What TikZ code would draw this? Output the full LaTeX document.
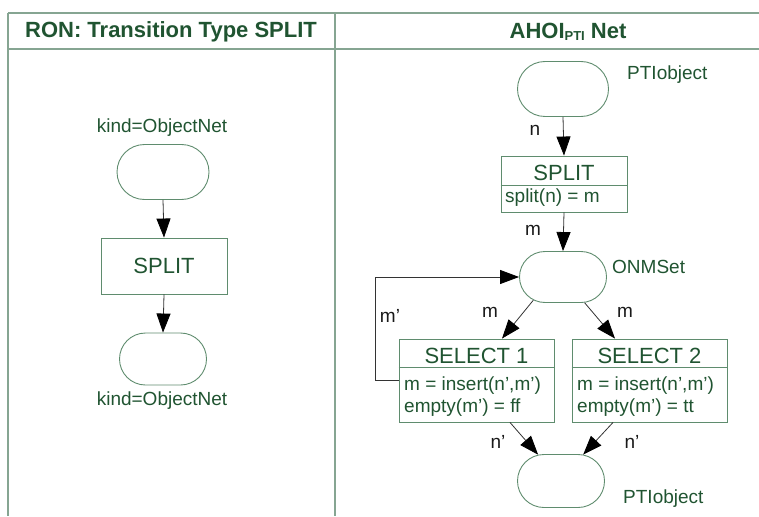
\documentclass[tikz,border=0pt]{standalone}
\usepackage{fontspec}
\setmainfont{Liberation Sans}
\usetikzlibrary{shapes.misc,arrows.meta,calc}
\definecolor{txt}{HTML}{205431}
\definecolor{shp}{HTML}{5F8C6E}
\definecolor{tbl}{HTML}{86A592}
\begin{document}
\begin{tikzpicture}[x=1pt,y=-1pt,
  every node/.style={text=txt,font=\fontsize{19}{22}\selectfont},
  place/.style={draw=shp,line width=0.9pt,rounded rectangle,inner sep=0pt},
  trans/.style={draw=shp,line width=0.9pt,rectangle,inner sep=0pt},
  big/.style={font=\fontsize{22}{24}\selectfont},
  hdr/.style={font=\fontsize{22}{24}\selectfont\bfseries},
  lab/.style={inner sep=0pt,anchor=base},
  labw/.style={inner sep=0pt,anchor=base west},
  arclab/.style={inner sep=0pt,anchor=base,text=black!90},
  arr/.style={draw=black!80,line width=0.8pt,-{Triangle[length=19pt,width=14pt,color=black]}},
  tline/.style={draw=tbl,line width=1.4pt}]
\useasboundingbox (0,0) rectangle (759,516);
% table
\draw[tline] (8,13) -- (759,13);
\draw[tline] (8,49) -- (759,49);
\draw[tline] (8,13) -- (8,516);
\draw[tline] (335,13) -- (335,516);
\node[hdr,lab] (h1) at (171,38) {RON: Transition Type SPLIT};
\node[hdr,lab] (h2) at (568,39) {AHOI\raisebox{-2pt}{\fontsize{13}{13}\selectfont\bfseries PTI} Net};
% left column
\node[lab] (lk1) at (162,132) {kind=ObjectNet};
\node[place,minimum width=92pt,minimum height=55pt] (p1) at (163,172) {};
\node[trans,minimum width=126pt,minimum height=56pt] (t1) at (164,266) {};
\node[big,lab] (t1t) at (164,273) {SPLIT};
\node[place,minimum width=87pt,minimum height=52pt] (p2) at (163,359) {};
\node[lab] (lk2) at (162,405) {kind=ObjectNet};
\draw[arr] (p1.south) -- (t1.north);
\draw[arr] (t1.south) -- (p2.north);
% right column
\node[place,minimum width=91pt,minimum height=55pt] (pa) at (563,89) {};
\node[labw] (lpa) at (627,80) {PTIobject};
\node[trans,minimum width=126pt,minimum height=56pt] (sp) at (564,184) {};
\draw[draw=shp,line width=0.9pt] (sp.west |- 0,185) -- (sp.east |- 0,185);
\node[big,lab] (spt) at (564,180) {SPLIT};
\node[labw] (spb) at (505,202) {split(n) = m};
\draw[arr] (pa.south) -- (sp.north);
\node[arclab] (ln) at (535,135) {n};
\node[place,minimum width=87pt,minimum height=51pt] (onm) at (563,277) {};
\node[labw] (lonm) at (612,273) {ONMSet};
\draw[arr] (sp.south) -- (onm.north);
\node[arclab] (lm) at (533,235) {m};
% select boxes
\node[trans,minimum width=155pt,minimum height=83pt] (s1) at (476.5,380.5) {};
\draw[draw=shp,line width=0.9pt] (s1.west |- 0,367) -- (s1.east |- 0,367);
\node[big,lab] (s1t) at (476.5,363) {SELECT 1};
\node[labw] (s1a) at (404,390) {m = insert(n',m')};
\node[labw] (s1b) at (404,412) {empty(m') = ff};
\node[trans,minimum width=155pt,minimum height=83pt] (s2) at (649.5,380.5) {};
\draw[draw=shp,line width=0.9pt] (s2.west |- 0,367) -- (s2.east |- 0,367);
\node[big,lab] (s2t) at (649.5,363) {SELECT 2};
\node[labw] (s2a) at (577,390) {m = insert(n',m')};
\node[labw] (s2b) at (577,412) {empty(m') = tt};
\node[place,minimum width=87pt,minimum height=53pt] (pb) at (561,481) {};
\node[labw] (lpb) at (623,503) {PTIobject};
% connectors
\draw[arr] (onm.218) -- ($(s1.north)+(25.5,0)$);
\draw[arr] (onm.310) -- ($(s2.north)+(-34.5,0)$);
\node[arclab] (lm1) at (490,317) {m};
\node[arclab] (lm2) at (625,317) {m};
\draw[arr] ($(s1.south)+(33.5,0)$) -- (pb.131);
\draw[arr] ($(s2.south)+(-36.5,0)$) -- (pb.50);
\node[arclab] (ln1) at (498,448) {n'};
\node[arclab] (ln2) at (632,448) {n'};
\draw[arr] (s1.west) -- ++(-23,0) |- (onm.west);
\node[arclab] (lmp) at (390,322) {m'};
\end{tikzpicture}
\end{document}
